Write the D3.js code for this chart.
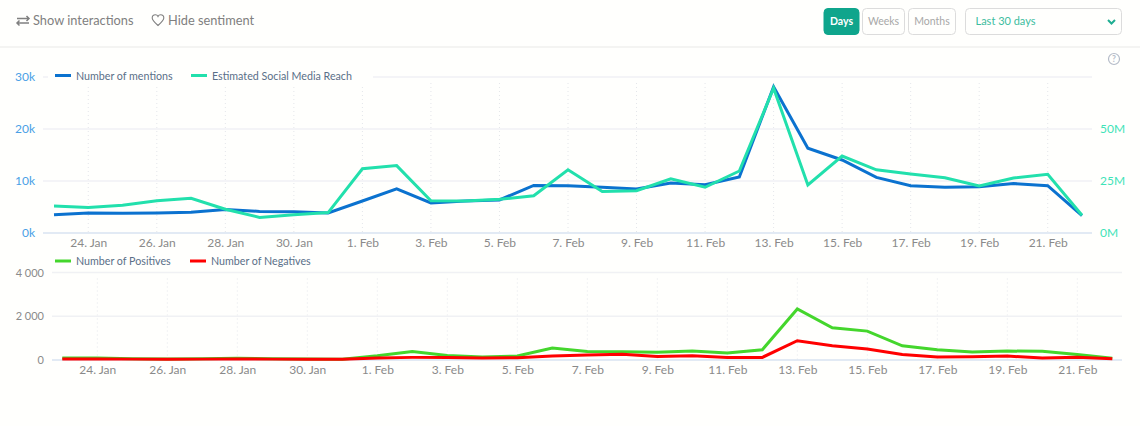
<!DOCTYPE html>
<html lang="en">
<head>
<meta charset="utf-8">
<title>Mentions and reach</title>
<script src="https://cdn.jsdelivr.net/npm/d3@7"></script>
<style>
html, body { margin: 0; padding: 0; background: #fffffd; overflow: hidden; }
svg { display: block; font-family: Lato, sans-serif; }
.grid line { stroke: #f0f1f4; stroke-width: 1.5; }
.dots line { stroke: #e4e6ea; stroke-width: 1; stroke-dasharray: 1 3; }
.base { stroke: #d9e3f0; stroke-width: 1.5; }
.axis path, .axis line { display: none; }
.axis text { font-family: Lato, sans-serif; font-size: 12px; }
.xaxis text { fill: #8a8a8a; }
.legend { font-size: 10.7px; fill: #5a6f88; }
.line { fill: none; stroke-width: 3; stroke-linejoin: miter; }
</style>
</head>
<body>
<svg id="chart" width="1140" height="426"></svg>
<script>
var days = ["23. Jan","24. Jan","25. Jan","26. Jan","27. Jan","28. Jan","29. Jan","30. Jan","31. Jan",
	"1. Feb","2. Feb","3. Feb","4. Feb","5. Feb","6. Feb","7. Feb","8. Feb","9. Feb","10. Feb","11. Feb",
	"12. Feb","13. Feb","14. Feb","15. Feb","16. Feb","17. Feb","18. Feb","19. Feb","20. Feb","21. Feb","22. Feb"];
var tickDays = ["24. Jan","26. Jan","28. Jan","30. Jan","1. Feb","3. Feb","5. Feb","7. Feb","9. Feb","11. Feb",
	"13. Feb","15. Feb","17. Feb","19. Feb","21. Feb"];

var mentions = [3500,3850,3800,3850,4000,4500,4150,4100,3850,6150,8500,5770,6150,6350,9150,9100,8800,8460,9600,9300,
	10770,28100,16300,14040,10700,9100,8800,8900,9500,9100,3330];
var reach = [13,12.3,13.3,15.5,16.7,11.4,7.5,8.8,9.8,30.9,32.4,15.5,15.4,16.2,17.9,30.4,19.9,20.3,26.1,22,
	29.8,69.6,23.1,37,30.4,28.4,26.6,22.6,26.4,28.2,8.5];
var positives = [90,90,60,50,60,80,60,50,40,190,390,210,135,180,545,390,380,350,410,320,
	470,2335,1470,1320,650,470,365,410,395,250,75];
var negatives = [50,50,40,30,40,50,40,30,30,90,120,120,90,105,180,225,260,165,195,120,
	120,880,650,500,255,135,150,180,90,120,60];

var mentionTicks = [0,10000,20000,30000];
var reachTicks = [0,25,50];
var sentimentTicks = [0,2000,4000];

var svg = d3.select("#chart");

//Toolbar
svg.append("line").attr("x1",0).attr("x2",1140).attr("y1",47).attr("y2",47).attr("stroke","#f0f0ee").attr("stroke-width",1.5);

function toolText(x, s) {
	svg.append("text").attr("x",x).attr("y",25).attr("font-size",12.8).attr("fill","#808080").text(s);
}
toolText(33,"Show interactions");
toolText(168,"Hide sentiment");

svg.append("path")
	.attr("d","M17 18.5H29M26.5 16L29 18.5L26.5 21 M29 23H17M19.5 20.5L17 23L19.5 25.5")
	.attr("fill","none").attr("stroke","#808080").attr("stroke-width",1.5);
svg.append("path")
	.attr("d","M158 25.5C154 22 152.2 20 152.2 18C152.2 16 153.8 14.8 155.4 14.8C156.5 14.8 157.5 15.4 158 16.4C158.5 15.4 159.5 14.8 160.6 14.8C162.2 14.8 163.8 16 163.8 18C163.8 20 162 22 158 25.5Z")
	.attr("fill","none").attr("stroke","#808080").attr("stroke-width",1.1);

var buttons = [
	{x:824,w:35,t:"Days",on:true},
	{x:862.5,w:42,t:"Weeks"},
	{x:908.5,w:47,t:"Months"}
];
buttons.forEach(function(b) {
	svg.append("rect").attr("x",b.x).attr("y",8.5).attr("width",b.w).attr("height",26).attr("rx",4)
		.attr("fill",b.on ? "#0fa58c" : "#fffffd").attr("stroke",b.on ? "#0fa58c" : "#dcdcdc");
	svg.append("text").attr("x",b.x+b.w/2).attr("y",25).attr("text-anchor","middle").attr("font-size",10.5)
		.attr("font-weight",b.on ? 700 : 400)
		.attr("fill",b.on ? "#ffffff" : "#a8a8a8").text(b.t);
});
svg.append("rect").attr("x",965.5).attr("y",8.5).attr("width",156).attr("height",26).attr("rx",4)
	.attr("fill","#fffffd").attr("stroke","#dcdcdc");
svg.append("text").attr("x",975.5).attr("y",25).attr("font-size",11).attr("fill","#3dbd9f").text("Last 30 days");
svg.append("path").attr("d","M1108 20L1111.5 23.5L1115 20").attr("fill","none").attr("stroke","#1fae92").attr("stroke-width",2);

svg.append("circle").attr("cx",1114).attr("cy",59).attr("r",5.5).attr("fill","none").attr("stroke","#b5bcc8").attr("stroke-width",1.2);
svg.append("text").attr("x",1114).attr("y",62).attr("text-anchor","middle").attr("font-size",8.5).attr("font-weight",700).attr("fill","#b5bcc8").text("?");

//Scales
var xTop = d3.scalePoint().domain(days).range([54,1082]);
var xBottom = d3.scalePoint().domain(days).range([62.3,1112.3]);
var yMentions = d3.scaleLinear().domain([0,30000]).range([233,77]);
var yReach = d3.scaleLinear().domain([0,75]).range([233,77]);
var ySentiment = d3.scaleLinear().domain([0,4000]).range([360,272.5]);

function drawFrame(x, y, ticks, left, right, top, bottom) {
	svg.append("g").attr("class","dots").selectAll("line").data(tickDays).enter().append("line")
		.attr("x1",function(d) { return x(d); })
		.attr("x2",function(d) { return x(d); })
		.attr("y1",top+6).attr("y2",bottom);
	svg.append("g").attr("class","grid").selectAll("line").data(ticks.slice(1)).enter().append("line")
		.attr("x1",left).attr("x2",right)
		.attr("y1",function(d) { return y(d); })
		.attr("y2",function(d) { return y(d); });
	svg.append("line").attr("class","base").attr("x1",left).attr("x2",right).attr("y1",bottom).attr("y2",bottom);
	svg.append("g").attr("class","axis xaxis")
		.attr("transform","translate(0,"+bottom+")")
		.call(d3.axisBottom(x).tickValues(tickDays).tickSize(0).tickPadding(5));
}

drawFrame(xTop, yMentions, mentionTicks, 43, 1092, 77, 233);
drawFrame(xBottom, ySentiment, sentimentTicks, 52, 1122, 272.5, 360);

//Y axes
var axisMentions = svg.append("g").attr("class","axis").attr("transform","translate(35,0)")
	.call(d3.axisLeft(yMentions).tickValues(mentionTicks).tickSize(0).tickPadding(0)
		.tickFormat(function(d) { return (d/1000)+"k"; }));
axisMentions.selectAll("text").attr("fill","#4a9fe6");

var axisReach = svg.append("g").attr("class","axis").attr("transform","translate(1100,0)")
	.call(d3.axisRight(yReach).tickValues(reachTicks).tickSize(0).tickPadding(0)
		.tickFormat(function(d) { return d+"M"; }));
axisReach.selectAll("text").attr("fill","#3fe3b8");

var axisSentiment = svg.append("g").attr("class","axis").attr("transform","translate(44,0)")
	.call(d3.axisLeft(ySentiment).tickValues(sentimentTicks).tickSize(0).tickPadding(0)
		.tickFormat(function(d) { return d3.format(",")(d).replace(",","\u00a0"); }));
axisSentiment.selectAll("text").attr("fill","#8a8a8a").style("font-size","11px");

//Lines
function drawLine(x, y, values, color) {
	var line = d3.line()
		.x(function(d,i) { return x(days[i]); })
		.y(function(d) { return y(d); });
	svg.append("path").attr("class","line").attr("stroke",color).attr("d",line(values));
}
drawLine(xTop, yMentions, mentions, "#0b72cf");
drawLine(xTop, yReach, reach, "#22e0ac");
drawLine(xBottom, ySentiment, positives, "#44d62c");
drawLine(xBottom, ySentiment, negatives, "#ff0000");

//Legends
function legendItem(x, y, color, label) {
	svg.append("line").attr("x1",x).attr("x2",x+16).attr("y1",y).attr("y2",y).attr("stroke",color).attr("stroke-width",3);
	svg.append("text").attr("class","legend").attr("x",x+21).attr("y",y+4).text(label);
}
svg.append("rect").attr("x",48).attr("y",66).attr("width",325).attr("height",20).attr("fill","#fffffd");
legendItem(55,75.5,"#0b72cf","Number of mentions");
legendItem(191,75.5,"#22e0ac","Estimated Social Media Reach");
legendItem(55,261,"#44d62c","Number of Positives");
legendItem(190,261,"#ff0000","Number of Negatives");
</script>
</body>
</html>
